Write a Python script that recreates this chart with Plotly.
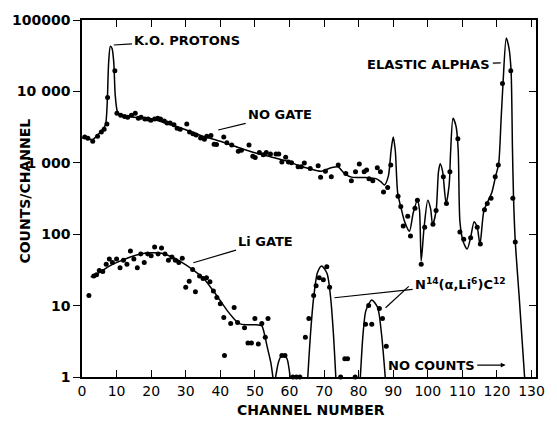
import math
import plotly.graph_objects as go

# ---------------- data ----------------
# NO GATE measured points
ng_ch = [0.8, 1.7, 3.1, 4.5, 5.6, 6.4, 7.2, 7.4, 9.5, 10.1, 11.2, 12.3, 13.2, 14.3, 15.4, 16.3, 17.1,
         18.2, 19.1, 19.9, 21.0, 21.9, 22.7, 23.8, 24.6, 25.5, 26.6, 27.5, 28.4, 30.3, 31.1, 32.1, 33.0,
         34.3, 35.4, 36.1, 37.3, 38.2, 38.9, 41.0, 41.9, 43.3, 45.2, 46.1, 48.3, 49.4, 50.1, 51.3, 52.4,
         53.3, 54.5, 56.1, 56.9, 57.8, 58.9, 59.7, 60.6, 62.5, 63.4, 64.3, 66.0, 68.3, 69.0, 70.4, 72.1,
         74.1, 76.3, 77.9, 79.1, 80.2, 81.6, 82.3, 83.0, 84.1, 85.4, 86.3, 87.2, 88.4, 89.3, 91.4, 92.2,
         92.9, 94.2, 95.0, 96.3, 97.0, 98.1, 99.1, 101.5, 102.4, 104.5, 105.4, 106.4, 108.7, 109.3,
         110.4, 112.4, 114.3, 115.2, 116.4, 117.2, 118.3, 119.5, 120.4, 121.6, 124.0, 124.6, 125.3]
ng_counts = [2300, 2200, 2000, 2350, 2700, 2950, 3500, 8200, 19500, 4950, 4650, 4450, 4350, 4650, 4950,
             4200, 4350, 4100, 4100, 3950, 4100, 4200, 4100, 3850, 3600, 3600, 3400, 3050, 2950, 3500,
             2700, 2550, 2450, 2220, 2140, 2350, 2420, 1820, 1800, 2300, 1910, 1770, 1450, 1500, 1770,
             1240, 1190, 1390, 1300, 1390, 1330, 1330, 1330, 1030, 1200, 1030, 1000, 880, 880, 990, 830,
             910, 630, 760, 640, 930, 710, 560, 750, 960, 750, 790, 600, 560, 850, 750, 390, 450, 930,
             340, 245, 130, 178, 94, 230, 300, 38, 125, 138, 215, 640, 270, 750, 2170, 107, 85, 89, 125,
             73, 220, 270, 318, 640, 930, 12900, 19400, 318, 78]

# NO GATE smooth curve
ng_fit_ch = [0, 1, 2, 3, 4, 5, 6, 6.8, 7.3, 7.7, 8.2, 8.7, 9.2, 9.6, 10.2, 11, 13, 16, 20, 25, 30, 35,
             40, 45, 50, 55, 60, 63, 66, 69, 72, 74, 76, 78, 82, 85, 86.5, 87.5, 88.6, 89.4, 90, 90.6,
             91.3, 92.4, 93.3, 94.7, 95.8, 97, 97.6, 98.1, 98.9, 100, 100.8, 101.4, 102.4, 103.1, 103.6,
             104.3, 105.3, 106.2, 106.6, 107.3, 108.2, 108.8, 109.3, 110.2, 111.4, 112.4, 113.4, 114.3,
             115.1, 116.2, 117.4, 118.5, 119.6, 120.5, 121.2, 121.8, 122.7, 123.5, 124.1, 124.5, 124.8,
             125.3, 126.5, 128]
ng_fit = [2250, 2200, 2150, 2100, 2300, 2600, 2950, 3400, 7000, 25000, 43000, 40000, 25000, 9000, 5300,
          4700, 4500, 4300, 4100, 3500, 2900, 2350, 2000, 1650, 1380, 1200, 1030, 900, 820, 760, 850,
          880, 700, 630, 620, 600, 540, 490, 650, 1500, 2300, 1500, 380, 220, 150, 110, 200, 300, 220,
          42, 120, 300, 230, 137, 210, 750, 970, 750, 270, 500, 1400, 4200, 3200, 1500, 150, 80, 62, 90,
          150, 125, 72, 210, 290, 380, 640, 970, 4000, 14000, 56000, 40000, 19000, 1500, 330, 80, 12, 1]

# Li GATE measured points
li_ch = [2, 3.4, 4.2, 5, 6, 7, 7.9, 8.8, 10, 11, 12, 13, 14, 15, 16, 17, 18, 19, 20, 21, 22, 23, 24, 25,
         26, 27, 28, 29, 30, 31, 32, 32.8, 34, 35, 36, 37, 38, 39, 40, 41, 41.2, 43, 44, 45, 47, 48, 49,
         50, 51, 52, 53, 53.8, 57.8, 58.7, 61, 62, 63, 64.6, 65.6, 67, 67.7, 68.6, 69.8, 70.8, 71.6,
         74.8, 76, 76.8, 79, 82, 82.9, 83.8, 86, 86.9, 88]
li_counts = [13.8, 26, 27, 31, 30, 38, 45, 40, 45, 34, 43, 38, 58, 45, 34, 53, 40, 53, 50, 66, 53, 64,
             53, 43, 48, 43, 40, 46, 18, 22, 32, 15.6, 26, 24, 24.5, 21.5, 16, 13, 10.6, 6.8, 2.0, 5.6,
             9.4, 5.8, 4.9, 3.0, 3.0, 6.6, 2.9, 5.6, 3.6, 6.6, 2.0, 2.0, 1, 1, 1, 3.6, 6.6, 13.8, 19,
             24.5, 23, 35, 18, 1, 1.8, 1.8, 1, 5.5, 10, 5.5, 9.1, 6.6, 2.7]

# Li GATE smooth curves (segments separated by None)
li_fit_ch = [2.5, 5, 8, 11, 14, 17, 20, 23, 26, 29, 32, 35, 38, 40, 42, 44, 45, 46, 48, 50, 52, 52.7,
             53.6, 54.6, 55.2, None,
             56, 56.8, 57.6, 58.5, 59.3, 60.2, None,
             65.3, 66.1, 67, 68.1, 69.3, 70.9, 71.9, 72.7, 73.4, None,
             80.5, 81.3, 82.1, 83.8, 85.5, 86.6, 87.7]
li_fit = [25, 29, 36, 42, 48, 53, 55, 54, 48, 40, 32, 24.5, 16, 11.7, 8.5, 6.5, 5.8, 5.5, 5.4, 5.4,
          5.2, 4.1, 2.6, 1.6, 1, None,
          1, 1.6, 1.95, 2.0, 1.8, 1, None,
          1, 4.1, 13, 29, 36, 28, 13, 4.1, 1, None,
          1, 4.1, 8.5, 12, 9.4, 4.1, 1]

x_ticks = [0, 10, 20, 30, 40, 50, 60, 70, 80, 90, 100, 110, 120, 130]
y_ticks = [1, 10, 100, 1000, 10000, 100000]
y_tick_text = ["1", "10", "100", "1 000", "10 000", "100000"]

# ---------------- figure ----------------
FONT = "DejaVu Sans"
fig = go.Figure()

fig.add_trace(go.Scatter(x=ng_fit_ch, y=ng_fit, mode="lines",
                         line=dict(color="black", width=1.5, shape="spline", smoothing=0.7),
                         hoverinfo="skip"))
fig.add_trace(go.Scatter(x=li_fit_ch, y=li_fit, mode="lines", connectgaps=False,
                         line=dict(color="black", width=1.5, shape="spline", smoothing=0.7),
                         hoverinfo="skip"))
fig.add_trace(go.Scatter(x=ng_ch, y=ng_counts, mode="markers",
                         marker=dict(color="black", size=5), cliponaxis=False))
fig.add_trace(go.Scatter(x=li_ch, y=li_counts, mode="markers",
                         marker=dict(color="black", size=5), cliponaxis=False))
# invisible trace to carry the right-hand axis
fig.add_trace(go.Scatter(x=[0], y=[1], yaxis="y2", mode="markers",
                         marker=dict(opacity=0), hoverinfo="skip"))

ann_font = dict(family=FONT, size=13, color="black")
# labels: text centre (channel, log10 counts) and leader head (channel, log10 counts)
labels = [
    ("<b>K.O. PROTONS</b>", 30.5, 4.71, 9.2, 4.65, 0),
    ("<b>NO GATE</b>", 57.3, 3.67, 39.4, 3.46, 0),
    ("<b>ELASTIC ALPHAS</b>", 100.3, 4.375, 121.1, 4.40, 0),
    ("<b>Li GATE</b>", 53.2, 1.90, 32.2, 1.60, 0),
    ("<b>N<sup>14</sup>(α,Li<sup>6</sup>)C<sup>12</sup></b>", 109.5, 1.30, 73.0, 1.11, 0),
    ("<b>NO COUNTS</b>", 101.0, 0.167, 122.5, 0.167, 2),
]
annotations = []
for text, tx, ty, hx, hy, head in labels:
    annotations.append(dict(x=hx, y=hy, ax=tx, ay=ty, xref="x", yref="y", axref="x", ayref="y",
                            text=text, font=ann_font, showarrow=True, arrowhead=head,
                            arrowsize=0.8, arrowwidth=1.2, arrowcolor="black",
                            standoff=0, startstandoff=1))

# axis titles
annotations.append(dict(x=-0.125, y=0.52, xref="paper", yref="paper", text="<b>COUNTS/CHANNEL</b>",
                        textangle=-90, showarrow=False, xanchor="center", yanchor="middle",
                        font=dict(family=FONT, size=14, color="black")))
annotations.append(dict(x=0.504, y=-0.092, xref="paper", yref="paper", text="<b>CHANNEL NUMBER</b>",
                        showarrow=False, xanchor="center", yanchor="middle",
                        font=dict(family=FONT, size=14, color="black")))

# second leader line of the N14 label (shape coordinates in data units)
shapes = [dict(type="line", xref="x", yref="y", x0=94.5, y0=10 ** 1.27, x1=87.8, y1=10 ** 0.97,
               line=dict(color="black", width=1.2))]

fig.update_layout(
    width=557, height=422,
    margin=dict(l=77, r=12, t=17, b=45),
    paper_bgcolor="white", plot_bgcolor="white",
    showlegend=False,
    annotations=annotations,
    shapes=shapes,
    xaxis=dict(range=[0, 131.3], tickvals=x_ticks, ticks="inside", ticklen=7, tickwidth=1.2,
               tickcolor="black", showline=True, linecolor="black", linewidth=1.5, mirror="ticks",
               showgrid=False, zeroline=False,
               tickfont=dict(family=FONT, size=14, color="black"), tickprefix="<b>",
               ticksuffix="</b>"),
    yaxis=dict(type="log", range=[0, 5], tickvals=y_ticks, ticktext=["<b>" + t + "</b>" for t in y_tick_text],
               ticks="outside", ticklen=7, tickwidth=1.2, tickcolor="black", showline=True,
               linecolor="black", linewidth=1.5, mirror=True, showgrid=False, zeroline=False,
               tickfont=dict(family=FONT, size=14, color="black")),
    yaxis2=dict(type="log", range=[0, 5], overlaying="y", side="right", tickvals=y_ticks,
                ticks="inside", ticklen=7, tickwidth=1.2, tickcolor="black", showticklabels=False,
                showline=False, showgrid=False, zeroline=False),
)

fig.write_html("out.html")
